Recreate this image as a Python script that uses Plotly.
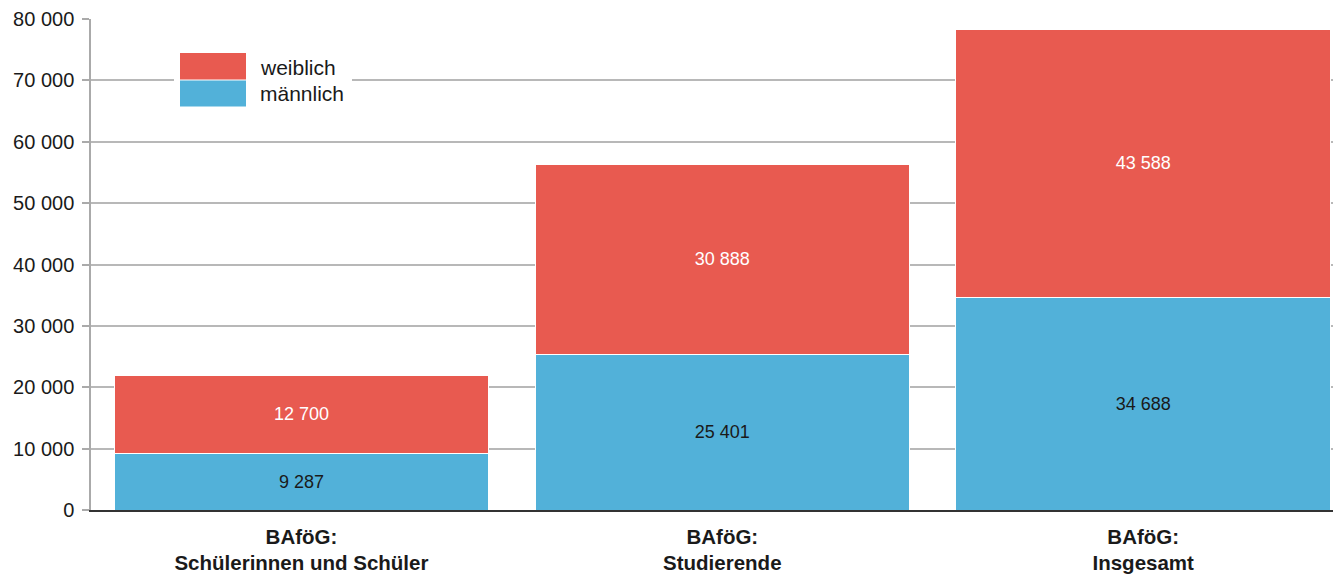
import plotly.graph_objects as go

categories = ["<b>BAföG:</b><br><b>Schülerinnen und Schüler</b>",
              "<b>BAföG:</b><br><b>Studierende</b>",
              "<b>BAföG:</b><br><b>Insgesamt</b>"]
maennlich = [9287, 25401, 34688]
weiblich = [12700, 30888, 43588]
y_ticks = [0, 10000, 20000, 30000, 40000, 50000, 60000, 70000, 80000]

RED = "#E85A50"
BLUE = "#52B1D9"
FONT = "Liberation Sans, Arial, Helvetica, sans-serif"

W, H = 1341, 574
OFF = 8  # page body margin of the browser
# target plot area in page pixels
PL, PR, PT, PB = 91, 1341, 19, 510
ML = PL - OFF
MT = PT - OFF
MB = H + OFF - PB
MR = W + OFF - PR

fig = go.Figure()
fig.add_trace(go.Bar(
    x=categories, y=maennlich, name="männlich",
    marker=dict(color=BLUE, line=dict(color="white", width=1)),
    texttemplate="%{y:,d}", textposition="inside", insidetextanchor="middle",
    textfont=dict(family=FONT, size=18, color="#1a1a1a"),
))
fig.add_trace(go.Bar(
    x=categories, y=weiblich, name="weiblich",
    marker=dict(color=RED, line=dict(color="white", width=1)),
    texttemplate="%{y:,d}", textposition="inside", insidetextanchor="middle",
    textfont=dict(family=FONT, size=18, color="white"),
))

def px2paper_x(px):
    return (px - PL) / (PR - PL)

def px2paper_y(py):
    return (PB - py) / (PB - PT)

shapes = [
    dict(type="rect", xref="paper", yref="paper", layer="above",
         x0=px2paper_x(174), x1=px2paper_x(352), y0=px2paper_y(108), y1=px2paper_y(52),
         fillcolor="white", line=dict(width=0)),
    dict(type="rect", xref="paper", yref="paper", layer="above",
         x0=px2paper_x(180), x1=px2paper_x(246), y0=px2paper_y(79.5), y1=px2paper_y(53),
         fillcolor=RED, line=dict(width=0)),
    dict(type="rect", xref="paper", yref="paper", layer="above",
         x0=px2paper_x(180), x1=px2paper_x(246), y0=px2paper_y(106.5), y1=px2paper_y(80.5),
         fillcolor=BLUE, line=dict(width=0)),
]
annotations = [
    dict(text="weiblich", xref="paper", yref="paper", x=px2paper_x(258), y=px2paper_y(67),
         xanchor="left", yanchor="middle", showarrow=False,
         font=dict(family=FONT, size=21, color="#1a1a1a")),
    dict(text="männlich", xref="paper", yref="paper", x=px2paper_x(258), y=px2paper_y(94),
         xanchor="left", yanchor="middle", showarrow=False,
         font=dict(family=FONT, size=21, color="#1a1a1a")),
]

fig.update_layout(
    width=W, height=H,
    margin=dict(l=ML, r=MR, t=MT, b=MB, pad=0, autoexpand=False),
    barmode="stack", bargap=0.11,
    showlegend=False,
    plot_bgcolor="white", paper_bgcolor="white",
    separators=". ",
    font=dict(family=FONT, size=18, color="#1a1a1a"),
    shapes=shapes, annotations=annotations,
)
fig.update_xaxes(
    range=[-0.5, 2.47], showgrid=False, automargin=False,
    showline=True, linecolor="#333333", linewidth=2,
    ticks="", ticklabelstandoff=7,
    tickfont=dict(family=FONT, size=20.5, color="#1a1a1a"),
)
fig.update_yaxes(
    range=[0, 80000], tickvals=y_ticks, tickformat=",d", automargin=False,
    showgrid=True, gridcolor="#b8b8b8", gridwidth=1.5,
    showline=True, linecolor="#aaaaaa", linewidth=1.5,
    ticks="outside", ticklen=7, tickcolor="#aaaaaa", tickwidth=1.5,
    ticklabelstandoff=4,
    zeroline=False,
    tickfont=dict(family=FONT, size=20, color="#1a1a1a"),
)

fig.write_html("out.html")
